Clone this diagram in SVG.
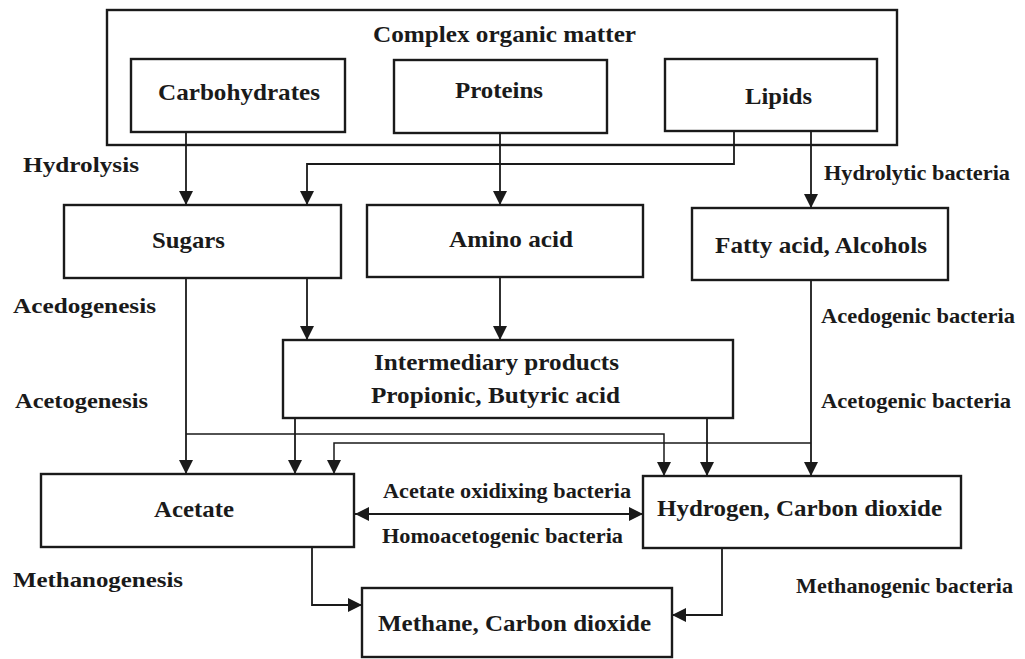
<svg xmlns="http://www.w3.org/2000/svg" width="1025" height="659" viewBox="0 0 1025 659">
<style>
  .box { fill: #ffffff; stroke: #1a1a1a; stroke-width: 2.4; }
  .con { fill: none; stroke: #1a1a1a; stroke-width: 1.8; }
  .thin { fill: none; stroke: #1a1a1a; stroke-width: 1.5; }
  .arr { marker-end: url(#ah); }
  text { font-family: "Liberation Serif", "Times New Roman", serif; font-weight: bold; fill: #1a1a1a; }
  .n { font-size: 24px; }
  .l { font-size: 22px; }
</style>
<defs>
  <marker id="ah" viewBox="0 0 14 14" refX="14" refY="7" markerWidth="14" markerHeight="14" markerUnits="userSpaceOnUse" orient="auto-start-reverse">
    <path d="M0,0 L14,7 L0,14 z" fill="#1a1a1a"/>
  </marker>
</defs>
<rect width="1025" height="659" fill="#ffffff"/>

<g id="complex-organic-matter">
  <rect class="box" x="107" y="10" width="790" height="135"/>
  <text class="n" x="373" y="42" textLength="263" lengthAdjust="spacingAndGlyphs">Complex organic matter</text>
</g>
<g id="carbohydrates">
  <rect class="box" x="131" y="59" width="214" height="73"/>
  <text class="n" x="158" y="100" textLength="162" lengthAdjust="spacingAndGlyphs">Carbohydrates</text>
</g>
<g id="proteins">
  <rect class="box" x="394" y="60" width="213" height="73"/>
  <text class="n" x="455" y="98" textLength="88" lengthAdjust="spacingAndGlyphs">Proteins</text>
</g>
<g id="lipids">
  <rect class="box" x="665" y="59" width="212" height="72"/>
  <text class="n" x="745" y="104" textLength="67" lengthAdjust="spacingAndGlyphs">Lipids</text>
</g>
<g id="sugars">
  <rect class="box" x="64" y="205" width="277" height="73"/>
  <text class="n" x="152" y="248" textLength="73" lengthAdjust="spacingAndGlyphs">Sugars</text>
</g>
<g id="amino-acid">
  <rect class="box" x="367" y="205" width="276" height="72"/>
  <text class="n" x="449" y="247" textLength="124" lengthAdjust="spacingAndGlyphs">Amino acid</text>
</g>
<g id="fatty-acid">
  <rect class="box" x="692" y="208" width="256" height="72"/>
  <text class="n" x="715" y="253" textLength="212" lengthAdjust="spacingAndGlyphs">Fatty acid, Alcohols</text>
</g>
<g id="intermediary">
  <rect class="box" x="283" y="340" width="450" height="78"/>
  <text class="n" x="374" y="370" textLength="245" lengthAdjust="spacingAndGlyphs">Intermediary products</text>
  <text class="n" x="371" y="403" textLength="249" lengthAdjust="spacingAndGlyphs">Propionic, Butyric acid</text>
</g>
<g id="acetate">
  <rect class="box" x="41" y="474" width="313" height="73"/>
  <text class="n" x="154" y="517" textLength="80" lengthAdjust="spacingAndGlyphs">Acetate</text>
</g>
<g id="hydrogen">
  <rect class="box" x="643" y="476" width="318" height="72"/>
  <text class="n" x="657" y="516" textLength="285" lengthAdjust="spacingAndGlyphs">Hydrogen, Carbon dioxide</text>
</g>
<g id="methane">
  <rect class="box" x="362" y="588" width="310" height="69"/>
  <text class="n" x="378" y="631" textLength="273" lengthAdjust="spacingAndGlyphs">Methane, Carbon dioxide</text>
</g>

<g id="connectors">
  <path class="con arr" d="M186,132 V205"/>
  <path class="con arr" d="M734,131 V164 H307 V205"/>
  <path class="con arr" d="M500,133 V205"/>
  <path class="con arr" d="M811,131 V208"/>
  <path class="con arr" d="M186,278 V474"/>
  <path class="con arr" d="M307,278 V340"/>
  <path class="con arr" d="M500,277 V340"/>
  <path class="thin arr" d="M186,434 H664 V476"/>
  <path class="con arr" d="M295,418 V474"/>
  <path class="con arr" d="M707,418 V476"/>
  <path class="con arr" d="M811,280 V476"/>
  <path class="thin arr" d="M811,443 H334 V474"/>
  <path class="con" d="M355,514 H643" marker-start="url(#ah)" marker-end="url(#ah)"/>
  <path class="con arr" d="M312,547 V605 H362"/>
  <path class="con arr" d="M722,548 V615 H672"/>
</g>

<g id="labels">
  <text class="l" x="23" y="172" textLength="116" lengthAdjust="spacingAndGlyphs">Hydrolysis</text>
  <text class="l" x="824" y="180" textLength="186" lengthAdjust="spacingAndGlyphs">Hydrolytic bacteria</text>
  <text class="l" x="13" y="313" textLength="143" lengthAdjust="spacingAndGlyphs">Acedogenesis</text>
  <text class="l" x="821" y="323" textLength="194" lengthAdjust="spacingAndGlyphs">Acedogenic bacteria</text>
  <text class="l" x="15" y="408" textLength="133" lengthAdjust="spacingAndGlyphs">Acetogenesis</text>
  <text class="l" x="821" y="408" textLength="190" lengthAdjust="spacingAndGlyphs">Acetogenic bacteria</text>
  <text class="l" x="383" y="498" textLength="248" lengthAdjust="spacingAndGlyphs">Acetate oxidixing bacteria</text>
  <text class="l" x="382" y="543" textLength="241" lengthAdjust="spacingAndGlyphs">Homoacetogenic bacteria</text>
  <text class="l" x="13" y="587" textLength="170" lengthAdjust="spacingAndGlyphs">Methanogenesis</text>
  <text class="l" x="796" y="593" textLength="217" lengthAdjust="spacingAndGlyphs">Methanogenic bacteria</text>
</g>
</svg>
